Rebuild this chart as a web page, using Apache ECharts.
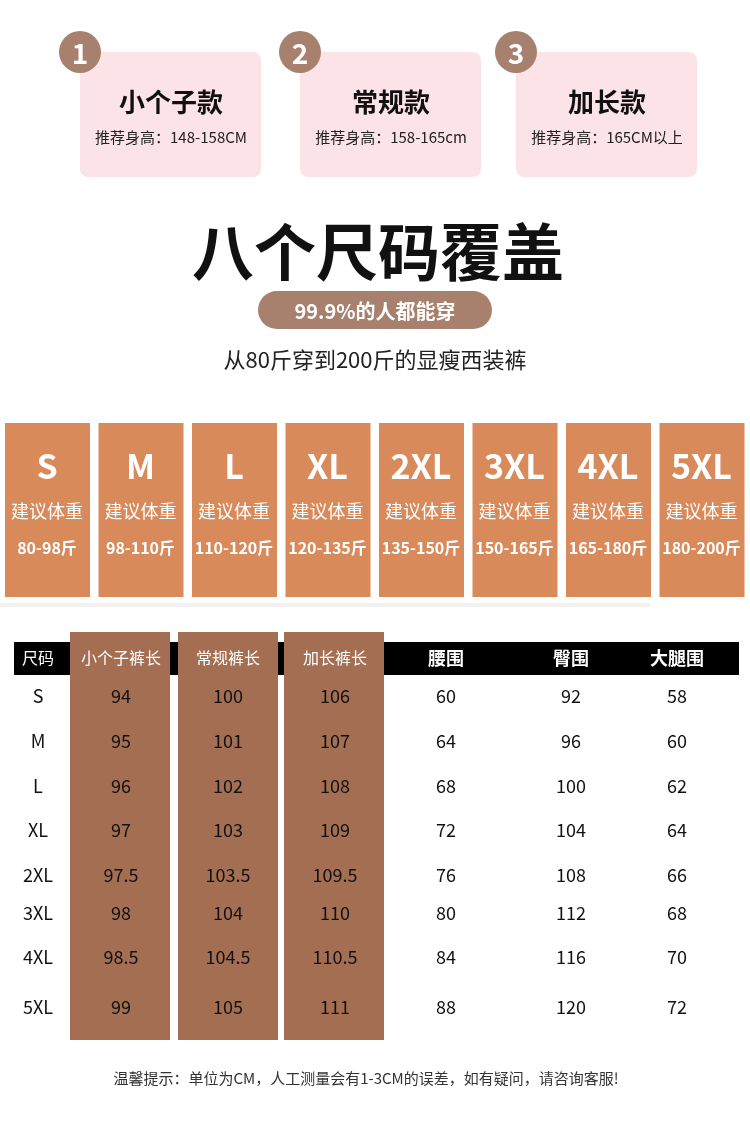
<!DOCTYPE html>
<html><head><meta charset="utf-8">
<script src="https://cdn.jsdelivr.net/npm/echarts@6/dist/echarts.min.js"></script>
<style>html,body{margin:0;padding:0;background:#fff}#main{width:750px;height:1121px}</style>
</head><body><div id="main"></div>
<script>
var FONT = '"Noto Sans CJK SC", sans-serif';
// top style cards
var styleNames = ['小个子款', '常规款', '加长款'];
var styleHeights = ['推荐身高：148-158CM', '推荐身高：158-165cm', '推荐身高：165CM以上'];
// size cards
var sizes = ['S', 'M', 'L', 'XL', '2XL', '3XL', '4XL', '5XL'];
var weights = ['80-98斤', '98-110斤', '110-120斤', '120-135斤', '135-150斤', '150-165斤', '165-180斤', '180-200斤'];
// table
var headers = ['尺码', '小个子裤长', '常规裤长', '加长裤长', '腰围', '臀围', '大腿围'];
var shortLen = ['94', '95', '96', '97', '97.5', '98', '98.5', '99'];
var regularLen = ['100', '101', '102', '103', '103.5', '104', '104.5', '105'];
var longLen = ['106', '107', '108', '109', '109.5', '110', '110.5', '111'];
var waist = ['60', '64', '68', '72', '76', '80', '84', '88'];
var hip = ['92', '96', '100', '104', '108', '112', '116', '120'];
var thigh = ['58', '60', '62', '64', '66', '68', '70', '72'];

var chart = echarts.init(document.getElementById('main'));
var g = [];
function txt(x, y, s, size, color, weight, align) {
  g.push({ type: 'text', x: x, y: y, z: 10, style: { text: s, fill: color, font: (weight || 'normal') + ' ' + size + 'px ' + FONT, align: align || 'center', verticalAlign: 'middle' } });
}
var cardX = [80, 300, 516];
for (var i = 0; i < 3; i++) {
  g.push({ type: 'rect', shape: { x: cardX[i], y: 52, width: 181, height: 125, r: 8 }, style: { fill: '#fbe3e7' } });
  g.push({ type: 'circle', shape: { cx: cardX[i], cy: 52, r: 21 }, style: { fill: '#a8806e' }, z: 5 });
  txt(cardX[i], 53, String(i + 1), 28, '#fff', 'bold');
  txt(cardX[i] + 91, 102, styleNames[i], 26, '#111', 'bold');
  txt(cardX[i] + 91, 137, styleHeights[i], 15, '#222');
}
txt(378, 252, '八个尺码覆盖', 62, '#111', 'bold');
g.push({ type: 'rect', shape: { x: 258, y: 291, width: 234, height: 38, r: 19 }, style: { fill: '#a8806e' } });
txt(375, 311, '99.9%的人都能穿', 20, '#fff', 'bold');
txt(375, 360, '从80斤穿到200斤的显瘦西装裤', 22, '#222');

for (var i = 0; i < sizes.length; i++) {
  var x = 5 + i * 93.5;
  g.push({ type: 'rect', shape: { x: x, y: 423, width: 85, height: 174 }, style: { fill: '#d98a5a' } });
  txt(x + 42, 466, sizes[i], 34, '#fff', 'bold');
  txt(x + 42, 511, '建议体重', 18, '#fff');
  txt(x + 42, 548, weights[i], 16, '#fff', 'bold');
}
g.push({ type: 'rect', shape: { x: 0, y: 603, width: 650, height: 4 }, style: { fill: '#f2f2f2' } });

// table
g.push({ type: 'rect', shape: { x: 14, y: 642, width: 725, height: 33 }, style: { fill: '#000' } });
var colX = [38, 121, 228, 335, 446, 571, 677];
var colBg = [null, [70, 100], [178, 100], [284, 100]];
for (var c = 1; c <= 3; c++) {
  g.push({ type: 'rect', z: 2, shape: { x: colBg[c][0], y: 632, width: colBg[c][1], height: 408 }, style: { fill: '#a46e52' } });
}
for (var c = 0; c < headers.length; c++) txt(colX[c], 658, headers[c], c >= 4 ? 18 : 16, '#fff', c >= 4 ? 'bold' : 'normal');
var rowY = [696, 741, 786, 830, 875, 913, 957, 1007];
var cols = [sizes, shortLen, regularLen, longLen, waist, hip, thigh];
for (var r = 0; r < rowY.length; r++) {
  for (var c = 0; c < cols.length; c++) {
    txt(colX[c], rowY[r], cols[c][r], 18, '#111');
  }
}
txt(366, 1078, '温馨提示：单位为CM，人工测量会有1-3CM的误差，如有疑问，请咨询客服!', 15, '#333');

chart.setOption({ backgroundColor: '#fff', graphic: g });
</script></body></html>
